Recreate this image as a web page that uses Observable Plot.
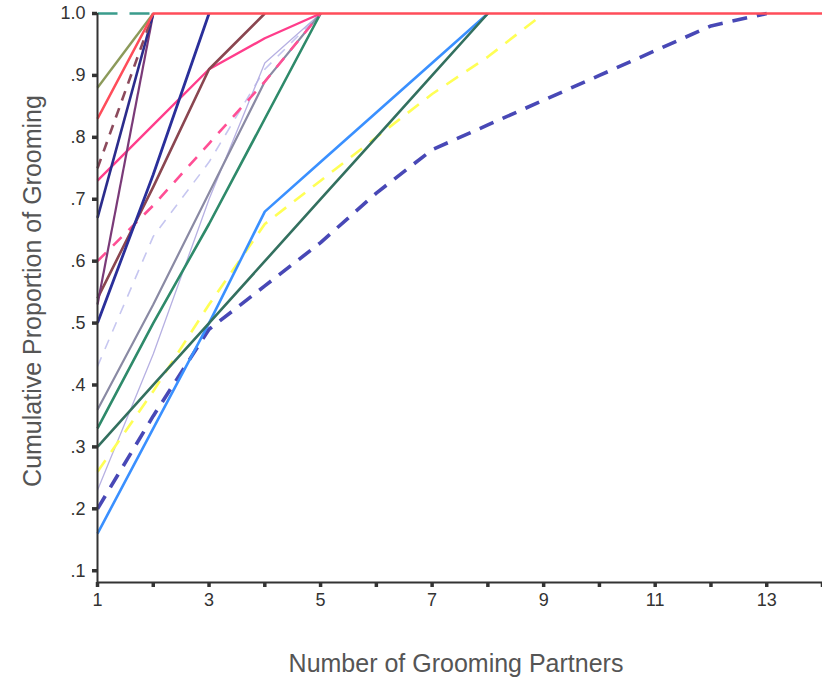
<!DOCTYPE html>
<html><head><meta charset="utf-8">
<script src="https://cdn.jsdelivr.net/npm/d3@7"></script>
<script src="https://cdn.jsdelivr.net/npm/@observablehq/plot@0.6"></script>
<style>body{margin:0;background:#fff;}</style>
</head><body><div id="chart"></div>
<script>
// Number of grooming partners (x) and y tick values
const partners = [1,2,3,4,5,6,7,8,9,10,11,12,13,14];
const yTicks = [0.1,0.2,0.3,0.4,0.5,0.6,0.7,0.8,0.9,1.0];
const xTitle = "Number of Grooming Partners";
const yTitle = "Cumulative Proportion of Grooming";

// Cumulative proportion of grooming, one value per partner count starting at 1
const lavenderDashed = [0.43, 0.64, 0.76, 0.91, 1.0];
const lilac          = [0.23, 0.45, 0.70, 0.92, 1.0];
const gray           = [0.36, 0.53, 0.71, 0.89, 1.0];
const yellowDashed   = [0.26, 0.39, 0.53, 0.66, 0.73, 0.80, 0.87, 0.93, 1.0];
const navyDashed     = [0.20, 0.35, 0.49, 0.56, 0.63, 0.71, 0.78, 0.82, 0.86, 0.90, 0.94, 0.98, 1.0];
const blue           = [0.16, 0.33, 0.50, 0.68, 0.76, 0.84, 0.92, 1.0];
const darkGreen      = [0.30, 0.40, 0.50, 0.60, 0.70, 0.80, 0.90, 1.0];
const teal           = [0.33, 0.50, 0.66, 0.83, 1.0];
const pinkDashed     = [0.60, 0.69, 0.79, 0.89, 1.0];
const pink           = [0.73, 0.82, 0.91, 0.96, 1.0];
const brown          = [0.54, 0.72, 0.91, 1.0];
const darkBlue       = [0.50, 0.74, 1.0];
const purple         = [0.53, 1.0];
const navy           = [0.67, 1.0];
const brownDashed    = [0.75, 1.0];
const olive          = [0.88, 1.0];
const tealDashed     = [1.0, 1.0];
const red            = [0.83, 1.0, 1.0, 1.0, 1.0, 1.0, 1.0, 1.0, 1.0, 1.0, 1.0, 1.0, 1.0, 1.0];

const seriesNames = ["lavenderDashed","lilac","gray","yellowDashed","navyDashed","blue","darkGreen","teal",
  "pinkDashed","pink","brown","darkBlue","purple","navy","brownDashed","olive","tealDashed","red"];
const seriesValues = [lavenderDashed,lilac,gray,yellowDashed,navyDashed,blue,darkGreen,teal,
  pinkDashed,pink,brown,darkBlue,purple,navy,brownDashed,olive,tealDashed,red];

// styles
const styles = {
  lavenderDashed: {c:"#c6c6f0", w:1.6, d:"10,9"},
  lilac:          {c:"#b6b0e2", w:1.3, d:null},
  gray:           {c:"#8a8aa4", w:2.2, d:null},
  yellowDashed:   {c:"#ffff55", w:2.6, d:"14,10"},
  navyDashed:     {c:"#4848b6", w:3.6, d:"15,10"},
  blue:           {c:"#3a90ff", w:2.6, d:null},
  darkGreen:      {c:"#33705f", w:2.6, d:null},
  teal:           {c:"#2e8a6a", w:2.6, d:null},
  pinkDashed:     {c:"#ff4f95", w:2.6, d:"12,10"},
  pink:           {c:"#ff3d8b", w:2.4, d:null},
  brown:          {c:"#8a4650", w:2.6, d:null},
  darkBlue:       {c:"#2a2f9a", w:2.8, d:null},
  purple:         {c:"#7a3a78", w:2.2, d:null},
  navy:           {c:"#2b2c8c", w:2.6, d:null},
  brownDashed:    {c:"#8c4a5c", w:2.6, d:"10,8"},
  olive:          {c:"#8c9a5a", w:2.4, d:null},
  tealDashed:     {c:"#3a9c8c", w:2.4, d:"20,12"},
  red:            {c:"#ff4d5a", w:2.6, d:null}
};

const lineMarks = seriesNames.map((name, i) => {
  const rows = seriesValues[i].map((v, j) => ({x: partners[j], y: v}));
  const s = styles[name];
  return Plot.line(rows, {x: "x", y: "y", stroke: s.c, strokeWidth: s.w,
    strokeDasharray: s.d || undefined, strokeLinecap: "butt"});
});

const chart = Plot.plot({
  width: 822,
  height: 683,
  marginLeft: 97,
  marginRight: 0,
  marginTop: 13,
  marginBottom: 101,
  style: {fontFamily: "'Liberation Sans', Arial, sans-serif", background: "#fff", overflow: "visible"},
  x: {domain: [1, 14]},
  y: {domain: [0.081, 1.0]},
  marks: [
    ...lineMarks,
    Plot.ruleX([1], {y1: 0.081, y2: 1.0, stroke: "#333", strokeWidth: 2}),
    Plot.ruleY([0.081], {x1: 1, x2: 14, stroke: "#333", strokeWidth: 2}),
    Plot.axisY(yTicks, {tickSize: 5, strokeWidth: 3.5, color: "#333", fontSize: 18, tickPadding: 7,
      tickFormat: d => d === 1 ? "1.0" : d.toFixed(1).slice(1), label: null}),
    Plot.axisX(partners, {tickSize: 5, strokeWidth: 3.5, color: "#333", fontSize: 18, tickPadding: 6,
      tickFormat: d => d % 2 ? String(d) : "", label: null}),
    Plot.text([yTitle], {frameAnchor: "left", textAnchor: "middle", lineAnchor: "middle", rotate: -90,
      dx: -65, dy: -7, fontSize: 25, fill: "#555"}),
    Plot.text([xTitle], {frameAnchor: "bottom", textAnchor: "middle", lineAnchor: "middle",
      dx: -4, dy: 81, fontSize: 25, fill: "#555"})
  ]
});
document.getElementById("chart").appendChild(chart);
</script>
</body></html>
